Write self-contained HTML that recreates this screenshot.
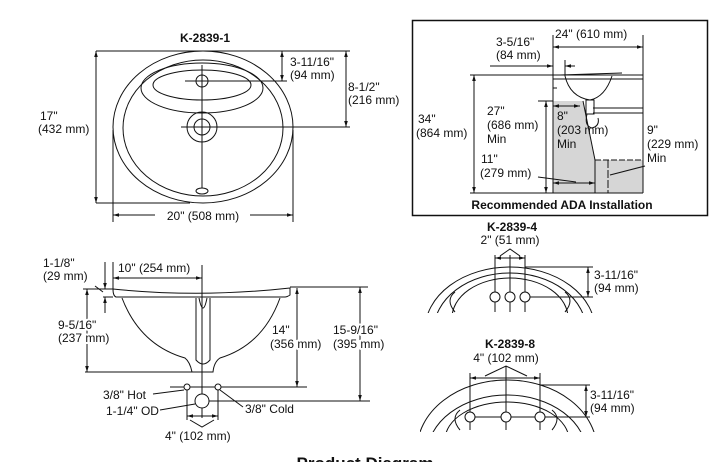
<!DOCTYPE html>
<html><head><style>
html,body{margin:0;padding:0;background:#fff;width:728px;height:462px;overflow:hidden;}
svg{display:block;}
text{font-family:"Liberation Sans",Arial,sans-serif;font-size:12px;fill:#111;}
.b{font-weight:bold;}
.h{stroke:#fff;stroke-width:4px;paint-order:stroke;stroke-linejoin:round;}
</style></head><body>
<svg width="728" height="462" viewBox="0 0 728 462" xmlns="http://www.w3.org/2000/svg">
<defs>
<marker id="a" viewBox="0 0 10 10" refX="10" refY="5" markerWidth="6" markerHeight="6" orient="auto-start-reverse"><path d="M0,2 L10,5 L0,8 z" fill="#111"/></marker>
<clipPath id="c4"><rect x="420" y="240" width="200" height="73"/></clipPath>
<clipPath id="c8"><rect x="420" y="360" width="200" height="72"/></clipPath>
</defs>
<g stroke="#111" fill="none" stroke-width="1">
<!-- top view -->
<ellipse cx="203" cy="127" rx="90" ry="76"/>
<ellipse cx="203" cy="128" rx="80" ry="68"/>
<ellipse cx="202" cy="88" rx="61" ry="25"/>
<ellipse cx="202" cy="85" rx="49" ry="15"/>
<circle cx="202" cy="81" r="6"/>
<circle cx="202" cy="127" r="15"/>
<circle cx="202" cy="127" r="8"/>
<ellipse cx="202" cy="191" rx="6" ry="3"/>
<line x1="202" y1="65" x2="202" y2="188"/>
<line x1="185" y1="81" x2="287" y2="81"/>
<line x1="181" y1="127" x2="350" y2="127"/>
<line x1="96" y1="51" x2="350" y2="51"/>
<line x1="96" y1="203" x2="190" y2="203"/>
<line x1="282" y1="51" x2="282" y2="81" marker-start="url(#a)" marker-end="url(#a)"/>
<line x1="346" y1="51" x2="346" y2="127" marker-start="url(#a)" marker-end="url(#a)"/>
<line x1="96" y1="51" x2="96" y2="203" marker-start="url(#a)" marker-end="url(#a)"/>
<line x1="113" y1="130" x2="113" y2="222"/>
<line x1="293" y1="130" x2="293" y2="222"/>
<line x1="113" y1="215" x2="155" y2="215" marker-start="url(#a)"/>
<line x1="250" y1="215" x2="293" y2="215" marker-end="url(#a)"/>
<!-- ADA box -->
<rect x="412.5" y="20.5" width="295" height="195" stroke-width="1.5"/>
<polygon points="553,101 583,101 595,160 643,160 643,193 553,193" fill="#d6d6d6" stroke="none"/>
<line x1="583" y1="101" x2="595" y2="160"/>
<line x1="595" y1="160" x2="595" y2="193"/>
<line x1="595" y1="160" x2="643" y2="160" stroke-dasharray="6,2"/>
<line x1="608" y1="160" x2="608" y2="193" stroke-dasharray="8,2"/>
<line x1="553" y1="35" x2="553" y2="193"/>
<line x1="643" y1="35" x2="643" y2="193"/>
<line x1="470" y1="75" x2="643" y2="75"/>
<line x1="553" y1="79" x2="643" y2="79"/>
<path d="M553,79 L553,88 L557,88"/>
<path d="M565,76 Q570,97 590,100 Q605,97 612,76"/>
<path d="M560,75 L622,73"/>
<rect x="586" y="100" width="8" height="14"/>
<path d="M587,114 Q584,126 592,128 Q600,126 598,118"/>
<line x1="593" y1="108" x2="643" y2="108"/>
<line x1="593" y1="113" x2="643" y2="113"/>
<line x1="470" y1="193" x2="643" y2="193"/>
<line x1="538" y1="101" x2="553" y2="101"/>
<line x1="553" y1="47" x2="643" y2="47" marker-start="url(#a)" marker-end="url(#a)"/>
<line x1="490" y1="66" x2="553" y2="66" marker-end="url(#a)"/>
<line x1="575" y1="66" x2="565" y2="66" marker-end="url(#a)"/>
<line x1="565" y1="60" x2="565" y2="76"/>
<line x1="474" y1="75" x2="474" y2="193" marker-start="url(#a)" marker-end="url(#a)"/>
<line x1="546" y1="101" x2="546" y2="193" marker-start="url(#a)" marker-end="url(#a)"/>
<line x1="553" y1="106" x2="580" y2="106" marker-start="url(#a)" marker-end="url(#a)"/>
<line x1="553" y1="183" x2="595" y2="183" marker-start="url(#a)" marker-end="url(#a)"/>
<line x1="538" y1="177" x2="576" y2="182"/>
<line x1="645" y1="166" x2="610" y2="175"/>
<!-- side view -->
<path d="M113,289 Q200,298 290,288 L290,295 Q287,297 285,297 L116,297 Q113,296 113,289 Z"/>
<path d="M122,298 Q140,345 185,358 Q190,362 192,372 L213,372 Q214,362 220,358 Q263,345 280,298"/>
<path d="M196,298 L196,360 Q203,368 210,360 L210,298"/>
<path d="M199,298 Q203,318 207,298"/>
<line x1="202" y1="265" x2="202" y2="418"/>
<line x1="83" y1="289" x2="113" y2="289"/>
<line x1="290" y1="287" x2="368" y2="287"/>
<line x1="103" y1="297" x2="113" y2="297"/>
<line x1="85" y1="372" x2="213" y2="372"/>
<line x1="87" y1="289" x2="87" y2="372" marker-start="url(#a)" marker-end="url(#a)"/>
<line x1="105" y1="262" x2="105" y2="289" marker-end="url(#a)"/>
<line x1="105" y1="313" x2="105" y2="297" marker-end="url(#a)"/>
<line x1="95" y1="286" x2="103" y2="292"/>
<line x1="113" y1="262" x2="113" y2="289"/>
<line x1="113" y1="278" x2="202" y2="278" marker-start="url(#a)" marker-end="url(#a)"/>
<line x1="297" y1="288" x2="297" y2="387" marker-start="url(#a)" marker-end="url(#a)"/>
<line x1="170" y1="387" x2="307" y2="387"/>
<line x1="360" y1="287" x2="360" y2="401" marker-start="url(#a)" marker-end="url(#a)"/>
<line x1="205" y1="401" x2="370" y2="401"/>
<circle cx="187" cy="387" r="3" fill="#fff"/>
<circle cx="218" cy="387" r="3" fill="#fff"/>
<line x1="187" y1="390" x2="187" y2="420"/>
<line x1="218" y1="390" x2="218" y2="420"/>
<circle cx="202" cy="401" r="7" fill="#fff"/>
<line x1="153" y1="394" x2="184" y2="390"/>
<line x1="160" y1="410" x2="195" y2="404"/>
<line x1="243" y1="407" x2="220" y2="390"/>
<line x1="187" y1="416" x2="218" y2="416" marker-start="url(#a)" marker-end="url(#a)"/>
<path d="M190,420 L202,427 L214,420"/>
<!-- K-2839-4 -->
<g clip-path="url(#c4)">
<ellipse cx="510" cy="330" rx="85" ry="63"/>
<ellipse cx="510" cy="330" rx="76" ry="57"/>
<ellipse cx="510" cy="318" rx="58" ry="40"/>
<path d="M455,312 Q445,300 455,292"/><path d="M565,312 Q575,300 565,292"/>
</g>
<line x1="495" y1="255" x2="495" y2="312"/>
<line x1="510" y1="255" x2="510" y2="312"/>
<line x1="525" y1="255" x2="525" y2="312"/>
<line x1="525" y1="297" x2="593" y2="297"/>
<line x1="525" y1="267" x2="593" y2="267"/>
<circle cx="495" cy="297" r="5" fill="#fff"/>
<circle cx="510" cy="297" r="5" fill="#fff"/>
<circle cx="525" cy="297" r="5" fill="#fff"/>
<line x1="588" y1="267" x2="588" y2="297" marker-start="url(#a)" marker-end="url(#a)"/>
<line x1="495" y1="258" x2="525" y2="258" marker-start="url(#a)" marker-end="url(#a)"/>
<path d="M500,256 L510,249 L520,256"/>
<!-- K-2839-8 -->
<g clip-path="url(#c8)">
<ellipse cx="507" cy="450" rx="90" ry="70"/>
<ellipse cx="507" cy="455" rx="80" ry="60"/>
<ellipse cx="507" cy="440" rx="62" ry="38"/>
<path d="M460,430 Q450,418 460,410"/><path d="M552,430 Q562,418 552,410"/>
</g>
<line x1="470" y1="373" x2="470" y2="430"/>
<line x1="506" y1="366" x2="506" y2="430"/>
<line x1="540" y1="373" x2="540" y2="430"/>
<line x1="470" y1="417" x2="590" y2="417"/>
<line x1="540" y1="385" x2="590" y2="385"/>
<circle cx="470" cy="417" r="5" fill="#fff"/>
<circle cx="506" cy="417" r="5" fill="#fff"/>
<circle cx="540" cy="417" r="5" fill="#fff"/>
<line x1="586" y1="385" x2="586" y2="417" marker-start="url(#a)" marker-end="url(#a)"/>
<line x1="470" y1="378" x2="540" y2="378" marker-start="url(#a)" marker-end="url(#a)"/>
<path d="M485,376 L506,366 L527,376"/>
</g>
<!-- text -->
<text x="205" y="42" text-anchor="middle" class="b">K-2839-1</text>
<text x="290" y="66">3-11/16"</text><text x="290" y="79">(94 mm)</text>
<text x="348" y="91">8-1/2"</text><text x="348" y="104">(216 mm)</text>
<text x="40" y="120">17"</text><text x="38" y="133">(432 mm)</text>
<rect x="157" y="208" width="92" height="14" fill="#fff"/>
<text x="203" y="220" text-anchor="middle">20" (508 mm)</text>
<text x="555" y="38" class="h">24" (610 mm)</text>
<text x="496" y="46">3-5/16"</text><text x="496" y="59">(84 mm)</text>
<text x="418" y="123">34"</text><text x="416" y="137">(864 mm)</text>
<text x="487" y="115">27"</text><text x="487" y="129">(686 mm)</text><text x="487" y="143">Min</text>
<text x="557" y="120">8"</text><text x="557" y="134">(203 mm)</text><text x="557" y="148">Min</text>
<text x="647" y="134">9"</text><text x="647" y="148">(229 mm)</text><text x="647" y="162">Min</text>
<text x="481" y="163">11"</text><text x="480" y="177" class="h">(279 mm)</text>
<text x="562" y="209" text-anchor="middle" class="b">Recommended ADA Installation</text>
<text x="43" y="267">1-1/8"</text><text x="43" y="280">(29 mm)</text>
<text x="118" y="272" class="h">10" (254 mm)</text>
<text x="58" y="329" class="h">9-5/16"</text><text x="58" y="342" class="h">(237 mm)</text>
<text x="272" y="334" class="h">14"</text><text x="270" y="348" class="h">(356 mm)</text>
<text x="333" y="334" class="h">15-9/16"</text><text x="333" y="348" class="h">(395 mm)</text>
<text x="103" y="399">3/8" Hot</text>
<text x="106" y="415">1-1/4" OD</text>
<text x="245" y="413">3/8" Cold</text>
<text x="165" y="440">4" (102 mm)</text>
<text x="365" y="469" text-anchor="middle" class="b" style="font-size:17px">Product Diagram</text>
<text x="512" y="231" text-anchor="middle" class="b">K-2839-4</text>
<text x="510" y="244" text-anchor="middle">2" (51 mm)</text>
<text x="594" y="279">3-11/16"</text><text x="594" y="292">(94 mm)</text>
<text x="510" y="348" text-anchor="middle" class="b">K-2839-8</text>
<text x="506" y="362" text-anchor="middle">4" (102 mm)</text>
<text x="590" y="399">3-11/16"</text><text x="590" y="412">(94 mm)</text>
</svg>
</body></html>
